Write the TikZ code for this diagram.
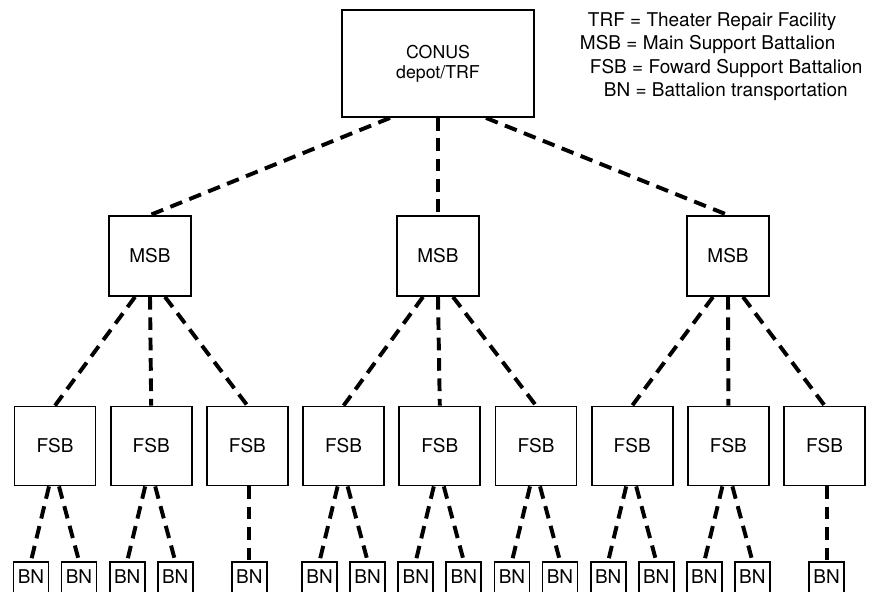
\documentclass[tikz,border=0pt]{standalone}
\usepackage{fontspec}
\setmainfont{TeX Gyre Heros}

\begin{document}
\begin{tikzpicture}[x=0.025cm, y=-0.025cm,
    txt/.style={font=\fontsize{13.5}{14.5}\selectfont},
    box/.style={draw, line width=1.3pt, inner sep=0pt, txt},
    msbbox/.style={box, minimum width=2.05cm, minimum height=2cm},
    fsbbox/.style={box, minimum width=2.025cm, minimum height=1.975cm},
    bnbox/.style={box, minimum width=0.875cm, text height=0.55cm, text depth=0.35cm, anchor=north},
    link/.style={line width=2.8pt, dash pattern=on 9pt off 5.5pt}]

    % Fix the frame; the BN boxes run off the bottom edge
    \useasboundingbox (0,0) rectangle (876,592);
    \clip (0,0) rectangle (876,592);

    % Top box
    \node[box, minimum width=4.8cm, minimum height=2.675cm, align=center,
          font=\fontsize{12.6}{14.2}\selectfont] (conus) at (438,63.5) {CONUS\\depot/TRF};

    % Legend, upper right
    \node[txt, anchor=base west] (legtrf) at (583,27) {TRF = Theater Repair Facility};
    \node[txt, anchor=base west] (legmsb) at (575,50) {MSB = Main Support Battalion};
    \node[txt, anchor=base west] (legfsb) at (585,73) {FSB = Foward Support Battalion};
    \node[txt, anchor=base west] (legbn) at (599,96) {BN = Battalion transportation};

    % MSB row
    \node[msbbox] (msb1) at (150,256) {MSB};
    \node[msbbox] (msb2) at (438,256) {MSB};
    \node[msbbox] (msb3) at (728,256) {MSB};

    % FSB row
    \foreach \i in {1,...,9}
        \node[fsbbox] (fsb\i) at ({55+96.2*(\i-1)},446) {FSB};

    % BN row: two under most FSBs, one under the 3rd and 9th
    \foreach \i in {1,2,4,5,6,7,8} {
        \node[bnbox] (bnl\i) at ({55+96.2*(\i-1)-24},561) {BN};
        \node[bnbox] (bnr\i) at ({55+96.2*(\i-1)+24},561) {BN};
    }
    \foreach \i in {3,9}
        \node[bnbox] (bnc\i) at ({55+96.2*(\i-1)+2},561) {BN};

    % Dashed links, CONUS to MSB
    \draw[link] ([xshift=-1.2cm]conus.south) -- (msb1.north);
    \draw[link] (conus.south) -- (msb2.north);
    \draw[link] ([xshift=1.2cm]conus.south) -- (msb3.north);

    % MSB to FSB
    \foreach \m/\a/\b/\c in {1/1/2/3, 2/4/5/6, 3/7/8/9} {
        \draw[link] ([xshift=-0.375cm]msb\m.south) -- (fsb\a.north);
        \draw[link] (msb\m.south) -- (fsb\b.north);
        \draw[link] ([xshift=0.375cm]msb\m.south) -- (fsb\c.north);
    }

    % FSB to BN
    \foreach \i in {1,2,4,5,6,7,8} {
        \draw[link] ([xshift=-0.15cm]fsb\i.south) -- (bnl\i.north);
        \draw[link] ([xshift=0.1cm]fsb\i.south) -- (bnr\i.north);
    }
    \foreach \i in {3,9}
        \draw[link] (fsb\i.south -| bnc\i.north) -- (bnc\i.north);

\end{tikzpicture}
\end{document}
